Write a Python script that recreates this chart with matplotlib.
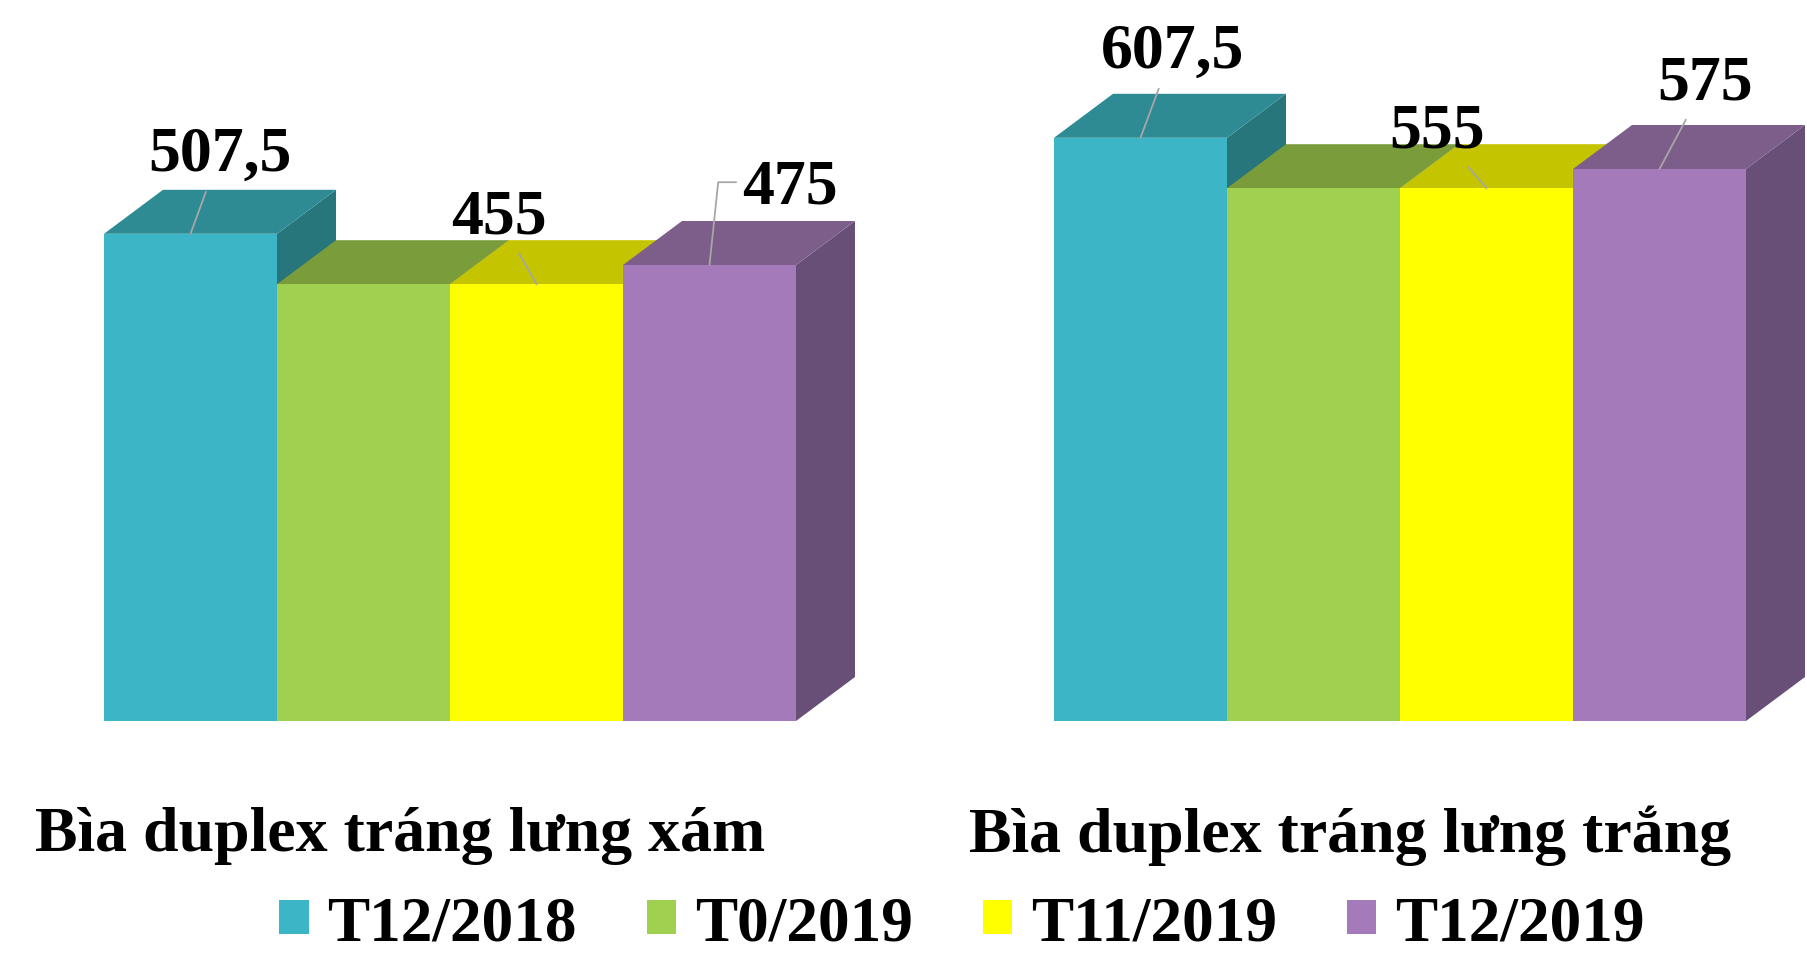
import matplotlib
matplotlib.use("Agg")
import matplotlib.pyplot as plt
from matplotlib.patches import Polygon, Patch

plt.rcParams["font.family"] = ["Liberation Serif", "DejaVu Serif"]
plt.rcParams["font.weight"] = "bold"

categories = ["Bìa duplex tráng lưng xám", "Bìa duplex tráng lưng trắng"]
series = ["T12/2018", "T0/2019", "T11/2019", "T12/2019"]
values = [
    [507.5, 455, 455, 475],
    [607.5, 555, 555, 575],
]
labels = [
    ["507,5", None, "455", "475"],
    ["607,5", None, "555", "575"],
]

front_colors = ["#3CB6C6", "#A0D04F", "#FFFF00", "#A47ABA"]
top_colors = ["#2E8B94", "#7A9C3A", "#C4C400", "#7D5E8B"]
side_colors = ["#26767C", "#688632", "#A8A800", "#684F78"]

# label offsets in pixels (dx, dy) from the top centre of the bar front
label_offsets = [
    [(29, 79), None, (-38, 67), (80, 77)],
    [(32, 86), None, (-49, 57), (46, 86)],
]

px_per_unit_x = 173.0
px_per_unit_y = 0.96
depth_x = 59 / px_per_unit_x
depth_y = 44 / px_per_unit_y
group_gap = 950 / px_per_unit_x

fig = plt.figure(figsize=(18.08, 9.54), dpi=100)
ax = fig.add_axes([0, 0, 1, 1])
ax.set_xlim(-104 / px_per_unit_x, (1808 - 104) / px_per_unit_x)
ax.set_ylim(-(954 - 722) / px_per_unit_y, 722 / px_per_unit_y)
ax.axis("off")

z = 1
for g, cat in enumerate(categories):
    x0 = g * group_gap
    for i, v in enumerate(values[g]):
        left = x0 + i
        right = left + 1
        side = Polygon([(right, 0), (right + depth_x, depth_y),
                        (right + depth_x, v + depth_y), (right, v)],
                       closed=True, facecolor=side_colors[i], edgecolor="none", zorder=z)
        top = Polygon([(left, v), (right, v), (right + depth_x, v + depth_y),
                       (left + depth_x, v + depth_y)],
                      closed=True, facecolor=top_colors[i], edgecolor="none", zorder=z + 1)
        ax.add_patch(side)
        ax.add_patch(top)
        ax.bar(left, v, width=1, align="edge", color=front_colors[i],
               edgecolor="none", zorder=z + 2)
        z += 3

        if labels[g][i] is not None:
            dx, dy = label_offsets[g][i]
            arrow = dict(arrowstyle="-", color="#A6A6A6", lw=1.3, shrinkA=4, shrinkB=0)
            if g == 0 and i == 3:
                # elbow leader for this label
                arrow.update(relpos=(0, 0.6), shrinkA=2,
                             connectionstyle="angle,angleA=180,angleB=84,rad=0")
            ax.annotate(labels[g][i], xy=(left + 0.5, v), xytext=(dx, dy),
                        textcoords="offset pixels", ha="center", va="center",
                        fontsize=46, fontweight="bold", color="black",
                        arrowprops=arrow, zorder=100)

    ax.text(x0 + 2 - 0.29, -119, cat, ha="center", va="center",
            fontsize=46, fontweight="bold", color="black")

handles = [Patch(facecolor=c, edgecolor="none") for c in front_colors]
fig.legend(handles, series, loc="center", bbox_to_anchor=(0.532, 0.03),
           ncol=4, frameon=False, fontsize=45.5, handlelength=0.47, handleheight=0.47,
           handletextpad=0.3, columnspacing=1.1, borderaxespad=0, borderpad=0)

fig.savefig("out.png", dpi=100, facecolor="white")
